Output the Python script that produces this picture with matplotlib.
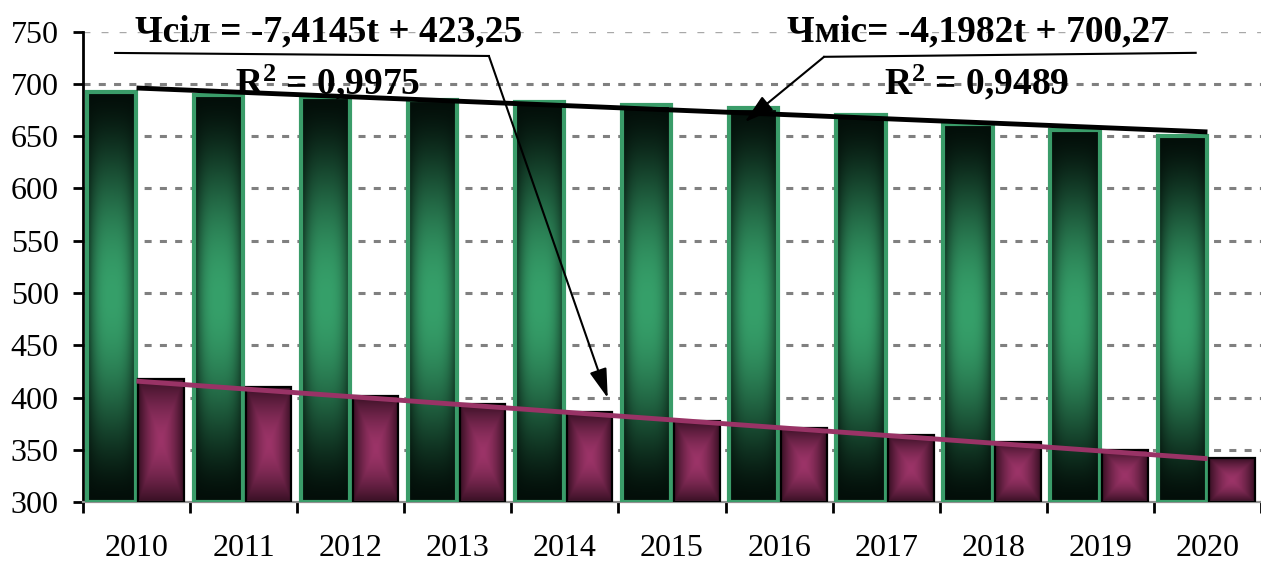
import numpy as np
import matplotlib
matplotlib.use("Agg")
import matplotlib.pyplot as plt

plt.rcParams['font.family'] = ['Liberation Serif', 'DejaVu Serif']
plt.rcParams['mathtext.default'] = 'regular'

years = ['2010', '2011', '2012', '2013', '2014', '2015',
         '2016', '2017', '2018', '2019', '2020']
misto = [692, 689, 687, 685, 683, 680, 677, 670, 662, 656, 650]
selo = [418, 410, 402, 394, 386, 378, 371, 364, 358, 350, 342]

# trend coefficients as shown on the chart
mis_a, mis_b = -4.1982, 700.27
sil_a, sil_b = -7.4145, 423.25

eq_sil = 'Чсіл = -7,4145t + 423,25'
r2_sil = 'R$^2$ = 0,9975'
eq_mis = 'Чміс= -4,1982t + 700,27'
r2_mis = 'R$^2$ = 0,9489'

YMIN = 300


def green_img(n=200, m=60):
    v = np.linspace(0, 1, n)[:, None]
    h = np.linspace(-1, 1, m)[None, :]
    f = np.sin(np.pi * v) ** 1.5
    g = 1 - 0.75 * np.abs(h) ** 3
    k = (f * g)[..., None]
    dark = np.array([3, 14, 9]) / 255
    light = np.array([54, 160, 106]) / 255
    return dark + (light - dark) * k


def pink_img(n=120, m=60):
    v = np.linspace(-1, 1, n)[:, None]
    h = np.linspace(-1, 1, m)[None, :]
    t = np.maximum(np.abs(v) * np.ones_like(h), np.abs(h) * np.ones_like(v))
    k = (t ** 1.6)[..., None]
    light = np.array([156, 52, 104]) / 255
    dark = np.array([56, 16, 36]) / 255
    return light + (dark - light) * k


fig = plt.figure(figsize=(12.61, 5.64), dpi=100)
ax = fig.add_axes([83 / 1261, 1 - 502.3 / 564, (1261 - 83) / 1261, (502.3 - 31.6) / 564])

x = np.arange(len(years))
gw, pw = 0.46, 0.426
gx = x - 0.236
px = x + 0.231

# gridlines
for yv in range(350, 751, 50):
    if yv == 750:
        ax.axhline(yv, color='#a8a8a8', lw=1.0, ls=(0, (5, 8)), zorder=0)
    else:
        ax.axhline(yv, color='#808080', lw=2.2, ls=(0, (2.3, 2.7)), zorder=0)

gimg = green_img()
pimg = pink_img()
for i in range(len(years)):
    ax.imshow(gimg, extent=[gx[i] - gw / 2, gx[i] + gw / 2, YMIN, misto[i]],
              aspect='auto', interpolation='bilinear', zorder=2)
    ax.imshow(pimg, extent=[px[i] - pw / 2, px[i] + pw / 2, YMIN, selo[i]],
              aspect='auto', interpolation='bilinear', zorder=2)

ax.bar(gx, np.array(misto) - YMIN, bottom=YMIN, width=gw, fill=False,
       edgecolor='#3a9c69', lw=3.0, zorder=3)
ax.bar(px, np.array(selo) - YMIN, bottom=YMIN, width=pw, fill=False,
       edgecolor='black', lw=1.6, zorder=3)

t = x + 1
ax.plot(x, mis_b + mis_a * t, color='black', lw=3.5, zorder=4, solid_capstyle='butt')
ax.plot(x, sil_b + sil_a * t, color='#993366', lw=3.5, zorder=4, solid_capstyle='butt')

ax.set_xlim(-0.5, 10.407)
ax.set_ylim(YMIN, 750)
ax.set_yticks(range(300, 751, 50))
ax.set_xticks(x)
ax.set_xticklabels(years)
ax.set_xticks(np.arange(-0.5, 11, 1.0), minor=True)
ax.tick_params(axis='x', which='major', length=0, pad=23, labelsize=23)
ax.tick_params(axis='x', which='minor', length=8, width=2, direction='out', color='black')
ax.tick_params(axis='y', length=7.5, width=2, direction='out', pad=10, labelsize=23)

for s in ['top', 'right']:
    ax.spines[s].set_visible(False)
ax.spines['left'].set_linewidth(2)
ax.spines['bottom'].set_linewidth(1.6)
ax.spines['bottom'].set_color('#909090')

# labels of trend lines
tkw = dict(fontsize=27, fontweight='bold', ha='center', va='baseline', zorder=6)
ax.text(1.796, 740.1, eq_sil, **tkw)
ax.text(1.787, 689.5, r2_sil, **tkw)
ax.text(7.86, 740.1, eq_mis, **tkw)
ax.text(7.84, 689.5, r2_mis, **tkw)

akw = dict(arrowstyle='-|>,head_length=0.9,head_width=0.27', lw=1.5, color='black',
           shrinkA=0, shrinkB=0, mutation_scale=20)
ax.plot([-0.20, 3.29], [729.6, 726.7], color='black', lw=1.5, clip_on=False, zorder=5)
ax.annotate('', xy=(4.40, 399.7), xytext=(3.29, 726.7), arrowprops=akw, zorder=5)
ax.plot([9.89, 6.42], [729.7, 725.9], color='black', lw=1.5, clip_on=False, zorder=5)
ax.annotate('', xy=(5.68, 663.6), xytext=(6.42, 725.9), arrowprops=akw, zorder=5)

fig.savefig('out.png', dpi=100)
